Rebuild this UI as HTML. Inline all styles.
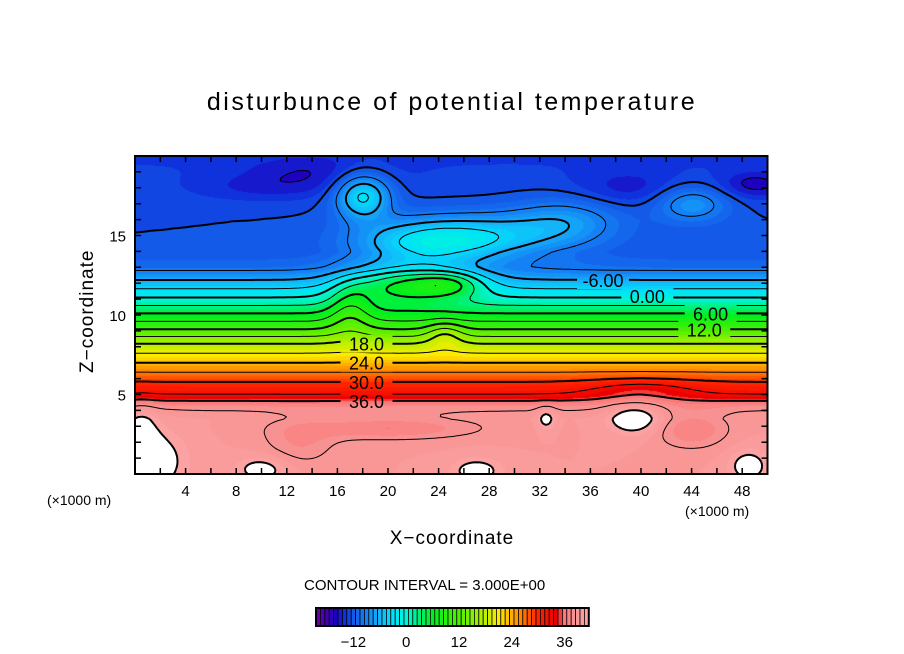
<!DOCTYPE html>
<html><head><meta charset="utf-8">
<style>
body{margin:0;background:#fff;width:904px;height:654px;overflow:hidden;position:relative;font-family:"Liberation Sans",sans-serif}
.t{position:absolute;white-space:nowrap;color:#000}
#cv{position:absolute;left:135px;top:156px}
svg{position:absolute;left:0;top:0}
</style></head><body>
<div class="t" style="left:0;width:904px;text-align:center;top:88px;font-size:25px;letter-spacing:2.5px">disturbunce of potential temperature</div>
<div class="t" style="left:28px;top:302px;font-size:19px;letter-spacing:1px;transform:rotate(-90deg);transform-origin:center;width:120px;text-align:center">Z−coordinate</div>
<div class="t" style="left:0;width:904px;text-align:center;top:528px;font-size:19px;letter-spacing:1px">X−coordinate</div>
<div class="t" style="left:47px;top:492px;font-size:14px">(×1000 m)</div>
<div class="t" style="left:685px;top:503px;font-size:14px">(×1000 m)</div>
<div class="t" style="left:304px;top:577px;font-size:15px">CONTOUR INTERVAL = 3.000E+00</div>
<canvas id="cv" width="633" height="318"></canvas>
<svg id="sv" width="904" height="654"></svg>
<script>
// base vertical profile
const profZ=[0,2,3.5,4,4.3,4.6,5,5.8,7,8.2,9.1,10.1,11.1,12.2,13,14,16,18,19.5,20];
const profV=[40,40,40,39,38,36,33,30,24,18,12,6,0,-6,-10,-12,-12,-12.5,-13,-13];
// perturbation blobs
const blobX=[18,23,28,34,21,25,17,24.5,40,14,39,49,10,1,10,27,32.5,39.5,48.5,20,44,13,0.5,44];
const blobZ=[17.5,14.5,15,16,12,12,10.5,8.8,5.3,19,18,18.2,18,0.8,0.3,0.2,3.5,3.5,0.5,2.9,2.8,2,2,17];
const blobA=[10,8,6,4,10,8,5,4,3,-2,-2,-3,-1.5,4,3,3,3,4,3,-3,-3,-2,3,5];
const blobSX=[1.5,4,5,3,3,2,1.2,1,3,4,3,2,4,2,1.5,1.5,0.5,1.5,1.2,5,2,2,0.8,2];
const blobSZ=[1,1,1,1,0.8,0.6,1.2,0.6,0.5,0.8,0.8,0.6,0.6,1.4,0.6,0.6,0.5,0.7,0.8,0.5,0.8,1,1.5,0.8];
const cbTicks=[-12,0,12,24,36];
const xTicks=[4,8,12,16,20,24,28,32,36,40,44,48];
const yTicks=[5,10,15];
const cLabels=["36.0","30.0","24.0","18.0","0.00","6.00","12.0","-6.00"];
const cLabelX=[18.3,18.3,18.3,18.3,40.5,45.5,45,37];
const cLabelZ=[4.6,5.8,7.0,8.2,11.2,10.1,9.1,12.2];

const X0=135,PX=12.65,Y0=474,PZ=15.9;
const sx=x=>X0+x*PX, sy=z=>Y0-z*PZ;
function prof(z){for(let i=1;i<profZ.length;i++){if(z<=profZ[i]){const t=(z-profZ[i-1])/(profZ[i]-profZ[i-1]);return profV[i-1]+t*(profV[i]-profV[i-1]);}}return profV[profV.length-1];}
function field(x,z){let v=prof(z);for(let i=0;i<blobX.length;i++){const dx=(x-blobX[i])/blobSX[i],dz=(z-blobZ[i])/blobSZ[i];v+=blobA[i]*Math.exp(-0.5*(dx*dx+dz*dz));}return v;}
const stops=[[-21,[120,0,170]],[-16,[30,0,190]],[-14,[15,50,220]],[-12,[20,90,232]],[-9,[20,130,245]],[-6,[20,180,250]],[-3,[0,225,250]],[0,[0,245,215]],[3,[0,240,120]],[6,[0,240,30]],[12,[80,240,0]],[18,[190,240,0]],[21,[250,235,0]],[24,[255,175,0]],[27,[255,110,0]],[30,[255,35,0]],[34,[235,0,0]],[36,[250,120,120]],[38,[248,145,145]],[41,[252,162,162]]];
function col(v){v=Math.floor(v);if(v>=42)return[255,255,255];if(v<=stops[0][0])return stops[0][1];for(let i=1;i<stops.length;i++){if(v<=stops[i][0]){const a=stops[i-1],b=stops[i],t=(v-a[0])/(b[0]-a[0]);return a[1].map((c,k)=>Math.round(c+t*(b[1][k]-c)));}}return stops[stops.length-1][1];}
// fill
const cv=document.getElementById('cv'),ctx=cv.getContext('2d');
const W=cv.width,H=cv.height,img=ctx.createImageData(W,H);
for(let j=0;j<H;j++){for(let i=0;i<W;i++){const c=col(field(i/PX,(H-j)/PZ));const p=(j*W+i)*4;img.data[p]=c[0];img.data[p+1]=c[1];img.data[p+2]=c[2];img.data[p+3]=255;}}
ctx.putImageData(img,0,0);
const NS='http://www.w3.org/2000/svg',sv=document.getElementById('sv');
function el(t,a,par){const e=document.createElementNS(NS,t);for(const k in a)e.setAttribute(k,a[k]);(par||sv).appendChild(e);return e;}
// label mask
const defs=el('defs',{});
const mask=el('mask',{id:'lm',maskUnits:'userSpaceOnUse',x:0,y:0,width:904,height:654},defs);
el('rect',{x:0,y:0,width:904,height:654,fill:'#fff'},mask);
for(let i=0;i<cLabels.length;i++){const x=sx(cLabelX[i]),y=sy(cLabelZ[i]);el('rect',{x:x-26,y:y-9,width:52,height:18,fill:'#000'},mask);}
const cg=el('g',{mask:'url(#lm)'});


// contours (marching squares)
const dx=0.25,dz=0.15,nx=Math.round(50/dx),nz=Math.round(20/dz);
const G=[];for(let j=0;j<=nz;j++){G.push([]);for(let i=0;i<=nx;i++)G[j].push(field(i*dx,j*dz));}
for(let L=-15;L<=42;L+=3){let d='';
 for(let j=0;j<nz;j++)for(let i=0;i<nx;i++){
  const v=[G[j][i],G[j][i+1],G[j+1][i+1],G[j+1][i]];
  const P=[[i,j],[i+1,j],[i+1,j+1],[i,j+1]];const pts=[];
  for(let e=0;e<4;e++){const a=v[e],b=v[(e+1)%4];if((a<L)!==(b<L)){const t=(L-a)/(b-a);const pa=P[e],pb=P[(e+1)%4];pts.push([sx((pa[0]+t*(pb[0]-pa[0]))*dx),sy((pa[1]+t*(pb[1]-pa[1]))*dz)]);}}
  for(let k=0;k+1<pts.length;k+=2)d+='M'+pts[k][0].toFixed(1)+' '+pts[k][1].toFixed(1)+'L'+pts[k+1][0].toFixed(1)+' '+pts[k+1][1].toFixed(1);
 }
 if(d){const p=el('path',{d:d,fill:'none',stroke:'#000','stroke-width':(L%6===0)?2:1},cg);
  if(L<0)p.setAttribute('stroke-dasharray','5 3');
  
  }
}
// contour labels
for(let i=0;i<cLabels.length;i++){
 const x=sx(cLabelX[i]),y=sy(cLabelZ[i]);
 const t=el('text',{x:x,y:y+7,'text-anchor':'middle','font-size':18,'font-family':'Liberation Sans, sans-serif'});t.textContent=cLabels[i];
 
 
}
// frame & ticks
const fr=el('rect',{x:X0,y:156,width:50*PX,height:318,fill:'none',stroke:'#000','stroke-width':2});


let tk='';
for(let x=2;x<50;x+=2){tk+=`M${sx(x)} 474v-6M${sx(x)} 156v6`;}
for(let z=1;z<20;z++){tk+=`M${X0} ${sy(z)}h6M${sx(50)} ${sy(z)}h-6`;}
const tp=el('path',{d:tk,stroke:'#000','stroke-width':1.5});


for(const x of xTicks){const t=el('text',{x:sx(x),y:496,'text-anchor':'middle','font-size':15,'font-family':'Liberation Sans, sans-serif'});t.textContent=x;
 
 }
for(const z of yTicks){const t=el('text',{x:126,y:sy(z)+6,'text-anchor':'end','font-size':15,'font-family':'Liberation Sans, sans-serif'});t.textContent=z;
 
 }
// colorbar
const CB0=316,CBW=4.4,CBmin=-20,CBmax=42;
for(let v=CBmin;v<CBmax;v++){const c=col(v);const r=el('rect',{x:CB0+(v-CBmin)*CBW,y:608,width:CBW,height:18,fill:`rgb(${c})`,stroke:'#000','stroke-width':0.8});
 
 }
const cbf=el('rect',{x:CB0,y:608,width:(CBmax-CBmin)*CBW,height:18,fill:'none',stroke:'#000','stroke-width':2});


for(const v of cbTicks){const t=el('text',{x:CB0+(v-CBmin+0.5)*CBW,y:647,'text-anchor':'middle','font-size':15,'font-family':'Liberation Sans, sans-serif'});t.textContent=v<0?'−'+(-v):v;
 
 }
</script>
</body></html>
